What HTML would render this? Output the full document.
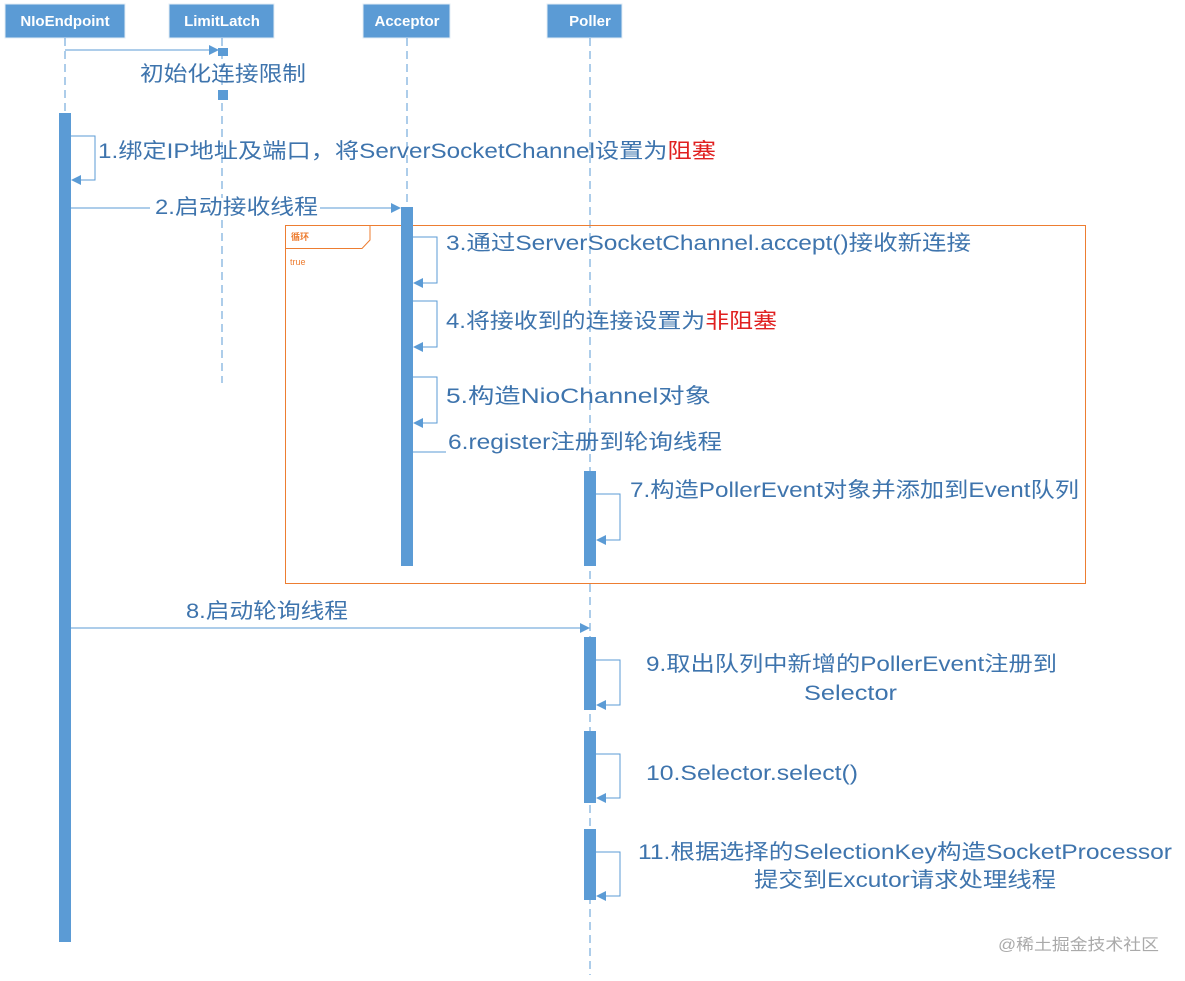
<!DOCTYPE html>
<html><head><meta charset="utf-8"><style>
html,body{margin:0;padding:0;background:#fff;}
svg{display:block;font-family:"Liberation Sans","Noto Sans CJK SC",sans-serif;}
.l{fill:#3e74ad;font-size:21px;}
</style></head><body>
<svg width="1185" height="981" viewBox="0 0 1185 981" xmlns="http://www.w3.org/2000/svg">
<defs>
<marker id="a" markerWidth="10" markerHeight="10" refX="9" refY="5" orient="auto" markerUnits="userSpaceOnUse"><path d="M0,0 L10,5 L0,10 z" fill="#5b9bd5"/></marker>
</defs>
<!-- headers -->
<g fill="#5b9bd5" stroke="#e3ecf5" stroke-width="1">
<rect x="5" y="4" width="120" height="34"/>
<rect x="169" y="4" width="105" height="34"/>
<rect x="363" y="4" width="87" height="34"/>
<rect x="547" y="4" width="75" height="34"/>
</g>
<g fill="#fff" font-size="15" font-weight="bold" text-anchor="middle">
<text x="65" y="26">NIoEndpoint</text>
<text x="222" y="26">LimitLatch</text>
<text x="407" y="26">Acceptor</text>
<text x="590" y="26">Poller</text>
</g>
<!-- lifelines -->
<g stroke="#5b9bd5" stroke-width="1" stroke-dasharray="8,5">
<line x1="65" y1="38" x2="65" y2="113"/>
<line x1="222" y1="38" x2="222" y2="383"/>
<line x1="407" y1="38" x2="407" y2="207"/>
<line x1="590" y1="38" x2="590" y2="975"/>
</g>
<!-- loop frame -->
<rect x="285.5" y="225.5" width="800" height="358" fill="none" stroke="#ed7d31" stroke-width="1"/>
<path d="M285.5,248.5 L362,248.5 L370,240 L370,225.5" fill="none" stroke="#ed7d31"/>
<text x="291" y="240" font-size="9" fill="#ed7d31" font-weight="bold">循环</text>
<text x="290" y="265" font-size="9" fill="#ed7d31">true</text>
<!-- bars -->
<g fill="#5b9bd5">
<rect x="218" y="48" width="10" height="8"/>
<rect x="218" y="90" width="10" height="10"/>
<rect x="59" y="113" width="12" height="829"/>
<rect x="401" y="207" width="12" height="359"/>
<rect x="584" y="471" width="12" height="95"/>
<rect x="584" y="637" width="12" height="73"/>
<rect x="584" y="731" width="12" height="72"/>
<rect x="584" y="829" width="12" height="71"/>
</g>
<!-- arrows -->
<g stroke="#5b9bd5" stroke-width="1" fill="none">
<line x1="65" y1="50" x2="218" y2="50" marker-end="url(#a)"/>
<path d="M71,136 H95 V180 H72" marker-end="url(#a)"/>
<line x1="71" y1="208" x2="400" y2="208" marker-end="url(#a)"/>
<path d="M413,237 H437 V283 H414" marker-end="url(#a)"/>
<path d="M413,301 H437 V347 H414" marker-end="url(#a)"/>
<path d="M413,377 H437 V423 H414" marker-end="url(#a)"/>
<line x1="413" y1="452" x2="446" y2="452"/>
<path d="M596,494 H620 V540 H597" marker-end="url(#a)"/>
<line x1="71" y1="628" x2="589" y2="628" marker-end="url(#a)"/>
<path d="M596,660 H620 V705 H597" marker-end="url(#a)"/>
<path d="M596,754 H620 V798 H597" marker-end="url(#a)"/>
<path d="M596,852 H620 V896 H597" marker-end="url(#a)"/>
</g>
<!-- labels -->
<rect x="150" y="198" width="170" height="22" fill="#fff"/>
<text class="l" x="140" y="81" textLength="166" lengthAdjust="spacingAndGlyphs">初始化连接限制</text>
<text class="l" x="98" y="158" textLength="618" lengthAdjust="spacingAndGlyphs">1.绑定IP地址及端口，将ServerSocketChannel设置为<tspan fill="#e02020">阻塞</tspan></text>
<text class="l" x="155" y="214" textLength="163" lengthAdjust="spacingAndGlyphs">2.启动接收线程</text>
<text class="l" x="446" y="250" textLength="525" lengthAdjust="spacingAndGlyphs">3.通过ServerSocketChannel.accept()接收新连接</text>
<text class="l" x="446" y="328" textLength="331" lengthAdjust="spacingAndGlyphs">4.将接收到的连接设置为<tspan fill="#e02020">非阻塞</tspan></text>
<text class="l" x="446" y="403" textLength="265" lengthAdjust="spacingAndGlyphs">5.构造NioChannel对象</text>
<text class="l" x="448" y="449" textLength="274" lengthAdjust="spacingAndGlyphs">6.register注册到轮询线程</text>
<text class="l" x="630" y="497" textLength="449" lengthAdjust="spacingAndGlyphs">7.构造PollerEvent对象并添加到Event队列</text>
<text class="l" x="186" y="618" textLength="162" lengthAdjust="spacingAndGlyphs">8.启动轮询线程</text>
<text class="l" x="646" y="671" textLength="411" lengthAdjust="spacingAndGlyphs">9.取出队列中新增的PollerEvent注册到</text>
<text class="l" x="804" y="700" textLength="93" lengthAdjust="spacingAndGlyphs">Selector</text>
<text class="l" x="646" y="780" textLength="212" lengthAdjust="spacingAndGlyphs">10.Selector.select()</text>
<text class="l" x="638" y="859" textLength="534" lengthAdjust="spacingAndGlyphs">11.根据选择的SelectionKey构造SocketProcessor</text>
<text class="l" x="754" y="887" textLength="302" lengthAdjust="spacingAndGlyphs">提交到Excutor请求处理线程</text>
<text x="998" y="950" font-size="16" fill="#aaaaaa" textLength="161" lengthAdjust="spacingAndGlyphs">@稀土掘金技术社区</text>
</svg>
</body></html>
